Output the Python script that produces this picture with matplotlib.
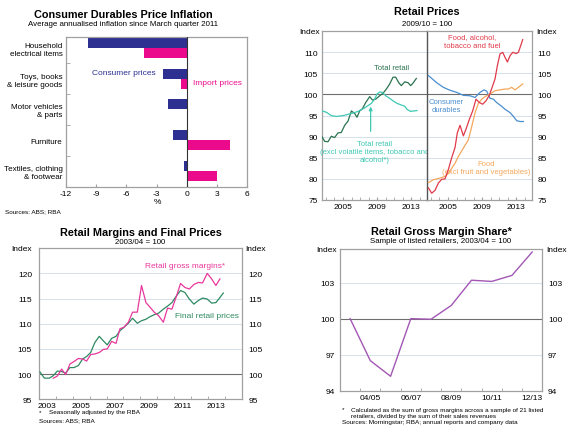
import matplotlib
matplotlib.use('Agg')
import matplotlib.pyplot as plt
from matplotlib.ticker import FixedLocator

plt.rcParams['font.family'] = ['Liberation Sans', 'DejaVu Sans']

# ---------------- Data ----------------
# Panel 1: Consumer Durables Price Inflation
p1_categories = ["Household\nelectrical items", "Toys, books\n& leisure goods",
                 "Motor vehicles\n& parts", "Furniture", "Textiles, clothing\n& footwear"]
p1_consumer = [-9.8, -2.35, -1.85, -1.35, -0.25]
p1_import = [-4.2, -0.55, 0.0, 4.35, 3.05]
p1_xticks = [-12, -9, -6, -3, 0, 3, 6]

# Panel 2: Retail Prices (left)
tr_x = [2002.54, 2002.85, 2003.24, 2003.63, 2004.02, 2004.41, 2004.80, 2005.20, 2005.59,
        2005.98, 2006.37, 2006.64, 2006.95, 2007.27, 2007.66, 2008.13, 2008.44, 2008.83,
        2009.30, 2009.69, 2010.08, 2010.47, 2010.86, 2011.17, 2011.56, 2011.84, 2012.23,
        2012.62, 2012.93, 2013.20, 2013.59]
tr_y = [90.0, 88.9, 88.8, 90.1, 89.8, 90.9, 91.0, 92.7, 93.7, 96.1, 95.5, 94.6, 96.1, 96.6,
        98.1, 99.5, 98.7, 98.9, 99.7, 100.3, 101.3, 102.5, 104.1, 104.1, 102.7, 102.1, 103.0,
        102.8, 102.1, 102.7, 103.8]
trx_x = [2002.54, 2003.05, 2003.63, 2004.22, 2004.61, 2005.00, 2005.59, 2006.17, 2006.76,
         2007.34, 2007.81, 2008.32, 2008.71, 2008.98, 2009.30, 2009.61, 2010.00, 2010.39,
         2010.86, 2011.33, 2011.84, 2012.23, 2012.50, 2012.89, 2013.28, 2013.67]
trx_y = [96.1, 95.8, 95.0, 94.8, 94.9, 95.0, 95.3, 95.6, 96.0, 96.6, 97.2, 97.9, 98.9, 100.1,
         100.6, 100.5, 99.7, 99.2, 98.5, 97.9, 97.5, 97.2, 96.5, 96.0, 96.1, 96.2]

# Panel 2: Retail Prices (right)
cd_x = [2002.70, 2003.67, 2004.45, 2005.24, 2006.02, 2006.80, 2007.58, 2008.17, 2008.75,
        2009.22, 2009.53, 2009.92, 2010.31, 2010.70, 2011.29, 2011.68, 2012.27, 2012.66,
        2013.05, 2013.44, 2013.83]
cd_y = [104.5, 102.8, 101.7, 101.0, 100.5, 99.8, 99.7, 99.3, 100.5, 101.1, 100.8, 99.1, 98.9,
        98.1, 97.2, 96.5, 95.7, 94.8, 93.8, 93.6, 93.6]
fat_x = [2002.70, 2003.09, 2003.48, 2003.87, 2004.26, 2004.65, 2005.04, 2005.43, 2005.82,
         2006.09, 2006.41, 2006.80, 2007.11, 2007.50, 2007.89, 2008.28, 2008.67, 2009.06,
         2009.45, 2009.84, 2010.24, 2010.51, 2010.78, 2011.09, 2011.41, 2011.68, 2011.96,
         2012.27, 2012.58, 2012.97, 2013.25, 2013.52, 2013.75]
fat_y = [77.9, 76.6, 77.3, 79.0, 79.9, 80.0, 82.2, 85.0, 87.4, 90.9, 92.7, 90.2, 91.8, 94.1,
         96.1, 98.9, 98.1, 97.7, 98.5, 99.8, 102.1, 103.7, 106.8, 109.6, 110.0, 108.8, 107.7,
         109.2, 110.0, 109.7, 110.0, 111.6, 113.0]
food_x = [2002.70, 2003.28, 2004.06, 2004.65, 2005.04, 2005.43, 2005.82, 2006.21, 2006.80,
          2007.39, 2007.78, 2008.17, 2008.56, 2008.95, 2009.34, 2009.92, 2010.51, 2011.09,
          2011.68, 2012.07, 2012.46, 2012.85, 2013.25, 2013.75]
food_y = [79.1, 79.8, 80.2, 80.6, 81.3, 82.5, 83.7, 85.3, 87.3, 89.3, 92.4, 95.7, 97.9, 98.9,
          99.5, 100.1, 100.9, 101.1, 101.3, 101.3, 101.7, 101.1, 101.7, 102.5]

# Panel 3: Retail Margins and Final Prices
frp_x = [2003.06, 2003.32, 2003.61, 2003.85, 2004.08, 2004.34, 2004.58, 2004.83, 2005.07,
         2005.33, 2005.58, 2005.82, 2006.06, 2006.31, 2006.57, 2006.81, 2007.04, 2007.30,
         2007.56, 2007.79, 2008.03, 2008.29, 2008.54, 2008.82, 2009.07, 2009.33, 2009.57,
         2009.82, 2010.08, 2010.36, 2010.61, 2010.87, 2011.15, 2011.38, 2011.64, 2011.90,
         2012.17, 2012.43, 2012.68, 2012.96, 2013.22, 2013.47, 2013.71, 2013.91]
frp_y = [100.4, 99.2, 99.2, 99.7, 100.6, 100.5, 100.2, 101.3, 101.3, 101.7, 103.0, 103.5,
         104.3, 106.3, 107.5, 106.6, 105.8, 107.1, 107.5, 108.6, 109.3, 110.1, 111.1, 110.1,
         110.6, 110.9, 111.4, 111.8, 112.1, 112.9, 113.5, 114.2, 115.6, 116.6, 116.2, 114.9,
         113.9, 114.6, 115.1, 114.9, 114.1, 114.2, 115.2, 116.1]
rgm_x = [2003.85, 2004.08, 2004.34, 2004.58, 2004.83, 2005.07, 2005.33, 2005.58, 2005.82,
         2006.06, 2006.31, 2006.57, 2006.81, 2007.04, 2007.30, 2007.56, 2007.79, 2008.03,
         2008.29, 2008.54, 2008.82, 2009.07, 2009.33, 2009.57, 2009.82, 2010.08, 2010.36,
         2010.61, 2010.87, 2011.15, 2011.38, 2011.64, 2011.90, 2012.17, 2012.43, 2012.68,
         2012.96, 2013.22, 2013.47, 2013.71]
rgm_y = [99.2, 99.6, 101.0, 99.9, 102.0, 102.5, 103.1, 103.0, 102.6, 103.9, 104.0, 104.3,
         104.9, 105.0, 106.5, 106.1, 109.0, 109.3, 110.3, 112.3, 112.3, 117.6, 114.2, 113.3,
         112.3, 111.6, 110.3, 113.1, 112.9, 115.6, 118.0, 117.2, 116.9, 117.8, 118.2, 118.1,
         120.0, 118.9, 117.6, 118.9]
p3_years = [2003, 2005, 2007, 2009, 2011, 2013]

# Panel 4: Retail Gross Margin Share
p4_years = ["03/04", "04/05", "05/06", "06/07", "07/08", "08/09", "09/10", "10/11", "11/12", "12/13"]
p4_values = [100.0, 96.5, 95.2, 100.0, 99.95, 101.1, 103.2, 103.1, 103.6, 105.55]

# ---------------- Styles ----------------
W, H = 580, 435
fig = plt.figure(figsize=(W / 100, H / 100), dpi=100)

NAVY = '#2D3090'
PINK = '#EC0A8C'
SPINE = '#A0A0A0'
GRID = '#CFDCE8'
ZERO = '#6E6E6E'
TITLE_FS = 7.8
SUB_FS = 5.7
TICK_FS = 6.0
ANN_FS = 6.0
ANN2_FS = 5.5
FOOT_FS = 4.6


def add_ax(l, t, r, b):
    return fig.add_axes([l / W, 1 - b / H, (r - l) / W, (b - t) / H])


def ftext(x, y, s, **kw):
    kw.setdefault('va', 'center')
    fig.text(x / W, 1 - y / H, s, **kw)


def style_spines(ax, color=SPINE, lw=0.9):
    for sp in ax.spines.values():
        sp.set_color(color)
        sp.set_linewidth(lw)


# ================= Panel 1 =================
ax1 = add_ax(66, 38, 247, 188.3)
pos = list(range(len(p1_categories)))
ax1.barh([p - 0.163 for p in pos], p1_consumer, height=0.326, color=NAVY, zorder=2)
ax1.barh([p + 0.163 for p in pos], p1_import, height=0.326, color=PINK, zorder=2)
ax1.axvline(0, color='#333333', lw=0.8, zorder=3)
ax1.set_xlim(-12, 6)
ax1.set_ylim(4.53, -0.35)
ax1.set_xticks(p1_xticks)
ax1.set_xticklabels([str(v) for v in p1_xticks])
ax1.tick_params(axis='x', direction='in', length=2.5, color=SPINE, labelsize=TICK_FS, pad=2)
ax1.yaxis.set_major_locator(FixedLocator(pos))
ax1.set_yticklabels(p1_categories, fontsize=5.8, ha='right', multialignment='right')
ax1.tick_params(axis='y', which='major', length=0, pad=2.5)
ax1.yaxis.set_minor_locator(FixedLocator([0.5, 1.5, 2.5, 3.5]))
ax1.tick_params(axis='y', which='minor', direction='in', length=3, color=SPINE)
style_spines(ax1)
ax1.text(-9.4, 0.81, "Consumer prices", color=NAVY, fontsize=ANN_FS, va='center', ha='left')
ax1.text(0.6, 1.14, "Import prices", color=PINK, fontsize=ANN_FS, va='center', ha='left')
ftext(157, 203, "%", fontsize=TICK_FS, ha='center')
ftext(123, 15, "Consumer Durables Price Inflation", fontsize=TITLE_FS, fontweight='bold', ha='center')
ftext(123, 25, "Average annualised inflation since March quarter 2011", fontsize=SUB_FS, ha='center')
ftext(5, 211.5, "Sources: ABS; RBA", fontsize=FOOT_FS, ha='left')

# ================= Panel 2 =================
ax2a = add_ax(322, 32.2, 427, 201)
ax2b = add_ax(427, 32.2, 532, 201)
XL2 = (2002.54, 2014.84)
for ax in (ax2a, ax2b):
    ax.set_xlim(*XL2)
    ax.set_ylim(75, 115)
    for g in [80, 85, 90, 95, 105, 110]:
        ax.axhline(g, color=GRID, lw=0.6, zorder=1)
    ax.axhline(100, color=ZERO, lw=0.8, zorder=1)
    ax.set_yticks([75, 80, 85, 90, 95, 100, 105, 110])
    ax.set_xticks([2005, 2009, 2013])
    ax.set_xticklabels(["2005", "2009", "2013"])
    ax.xaxis.set_minor_locator(FixedLocator(list(range(2003, 2015))))
    ax.tick_params(axis='x', which='both', direction='in', length=2.5, color=SPINE,
                   labelsize=TICK_FS, pad=2)
    style_spines(ax)
ax2a.tick_params(axis='y', length=0, pad=3, labelsize=TICK_FS, left=True, right=False)
ax2b.tick_params(axis='y', length=0, pad=4, labelsize=TICK_FS, left=False, right=True,
                 labelleft=False, labelright=True)
ax2a.spines['right'].set_visible(False)
ax2b.spines['left'].set_color('#555555')
ax2b.spines['left'].set_linewidth(1.0)

ax2a.plot(tr_x, tr_y, color='#2A7350', lw=0.9, zorder=3)
ax2a.plot(trx_x, trx_y, color='#3FC8B2', lw=0.9, zorder=3)
ax2a.text(2010.66, 106.4, "Total retail", color='#2A7350', fontsize=ANN2_FS, ha='center', va='center')
ax2a.text(2008.75, 86.4, "Total retail\n(excl volatile items, tobacco and\nalcohol*)", color='#3FC8B2',
          fontsize=ANN2_FS, ha='center', va='center', linespacing=1.2)
ax2a.annotate("", xy=(2008.24, 97.8), xytext=(2008.24, 90.6),
              arrowprops=dict(arrowstyle='-|>', color='#3FC8B2', lw=0.9, mutation_scale=5))

ax2b.plot(cd_x, cd_y, color='#4A8ED0', lw=0.9, zorder=3)
ax2b.plot(food_x, food_y, color='#F4A85C', lw=0.9, zorder=3)
ax2b.plot(fat_x, fat_y, color='#E03A4A', lw=0.9, zorder=4)
ax2b.text(2007.8, 112.7, "Food, alcohol,\ntobacco and fuel", color='#E03A4A', fontsize=ANN2_FS,
          ha='center', va='center', linespacing=1.3)
ax2b.text(2004.84, 97.4, "Consumer\ndurables", color='#4A8ED0', fontsize=ANN2_FS,
          ha='center', va='center', linespacing=1.2)
ax2b.text(2009.5, 82.75, "Food\n(excl fruit and vegetables)", color='#F4A85C', fontsize=ANN2_FS,
          ha='center', va='center', linespacing=1.25)

ftext(320, 33, "Index", fontsize=TICK_FS, ha='right')
ftext(536, 33, "Index", fontsize=TICK_FS, ha='left')
ftext(427, 12, "Retail Prices", fontsize=TITLE_FS, fontweight='bold', ha='center')
ftext(427, 24, "2009/10 = 100", fontsize=SUB_FS, ha='center')

# ================= Panel 3 =================
ax3 = add_ax(39, 249.2, 241.7, 400.3)
ax3.set_xlim(2003, 2015)
ax3.set_ylim(95, 125)
for g in [105, 110, 115, 120]:
    ax3.axhline(g, color=GRID, lw=0.6, zorder=1)
ax3.axhline(100, color=ZERO, lw=0.8, zorder=1)
ax3.plot(frp_x, frp_y, color='#2E8A62', lw=0.9, zorder=3)
ax3.plot(rgm_x, rgm_y, color='#E8389C', lw=0.9, zorder=4)
ax3.set_yticks([95, 100, 105, 110, 115, 120])
ax3.tick_params(axis='y', length=0, pad=5, labelsize=TICK_FS, labelright=True)
ax3.set_xticks([y + 0.5 for y in p3_years])
ax3.set_xticklabels([str(y) for y in p3_years])
ax3.xaxis.set_minor_locator(FixedLocator(list(range(2004, 2015))))
ax3.tick_params(axis='x', which='major', length=0, labelsize=TICK_FS, pad=2)
ax3.tick_params(axis='x', which='minor', direction='in', length=2.5, color=SPINE)
style_spines(ax3)
ax3.text(2011.64, 121.5, "Retail gross margins*", color='#E8389C', fontsize=ANN_FS, ha='center', va='center')
ax3.text(2012.92, 111.7, "Final retail prices", color='#2E8A62', fontsize=ANN_FS, ha='center', va='center')
ftext(32, 250, "Index", fontsize=TICK_FS, ha='right')
ftext(245, 250, "Index", fontsize=TICK_FS, ha='left')
ftext(140.5, 233, "Retail Margins and Final Prices", fontsize=TITLE_FS, fontweight='bold', ha='center')
ftext(140.5, 242.5, "2003/04 = 100", fontsize=SUB_FS, ha='center')
ftext(39, 412.5, "*", fontsize=FOOT_FS, ha='left')
ftext(49, 412.5, "Seasonally adjusted by the RBA", fontsize=FOOT_FS, ha='left')
ftext(39, 421, "Sources: ABS; RBA", fontsize=FOOT_FS, ha='left')

# ================= Panel 4 =================
ax4 = add_ax(340, 250, 542.3, 391.7)
ax4.set_xlim(-0.5, len(p4_years) - 0.5)
ax4.set_ylim(94, 105.8)
for g in [97, 103]:
    ax4.axhline(g, color=GRID, lw=0.6, zorder=1)
ax4.axhline(100, color=ZERO, lw=0.8, zorder=1)
ax4.plot(range(len(p4_years)), p4_values, color='#A257B4', lw=1.0, zorder=3)
ax4.set_yticks([94, 97, 100, 103])
ax4.tick_params(axis='y', length=0, pad=4, labelsize=TICK_FS, labelright=True)
lab_idx = [1, 3, 5, 7, 9]
ax4.set_xticks(lab_idx)
ax4.set_xticklabels([p4_years[i] for i in lab_idx])
ax4.xaxis.set_minor_locator(FixedLocator([i + 0.5 for i in range(len(p4_years) - 1)]))
ax4.tick_params(axis='x', which='major', length=0, labelsize=TICK_FS, pad=2.5)
ax4.tick_params(axis='x', which='minor', direction='in', length=2.5, color=SPINE)
style_spines(ax4)
ftext(336.5, 251, "Index", fontsize=TICK_FS, ha='right')
ftext(546, 251, "Index", fontsize=TICK_FS, ha='left')
ftext(441, 232, "Retail Gross Margin Share*", fontsize=TITLE_FS, fontweight='bold', ha='center')
ftext(441, 242, "Sample of listed retailers, 2003/04 = 100", fontsize=SUB_FS, ha='center')
ftext(341.5, 410, "*", fontsize=FOOT_FS, ha='left')
ftext(351, 410.7, "Calculated as the sum of gross margins across a sample of 21 listed", fontsize=FOOT_FS, ha='left')
ftext(351, 416.8, "retailers, divided by the sum of their sales revenues", fontsize=FOOT_FS, ha='left')
ftext(341.5, 423, "Sources: Morningstar; RBA; annual reports and company data", fontsize=FOOT_FS, ha='left')

fig.savefig('out.png', dpi=100)
